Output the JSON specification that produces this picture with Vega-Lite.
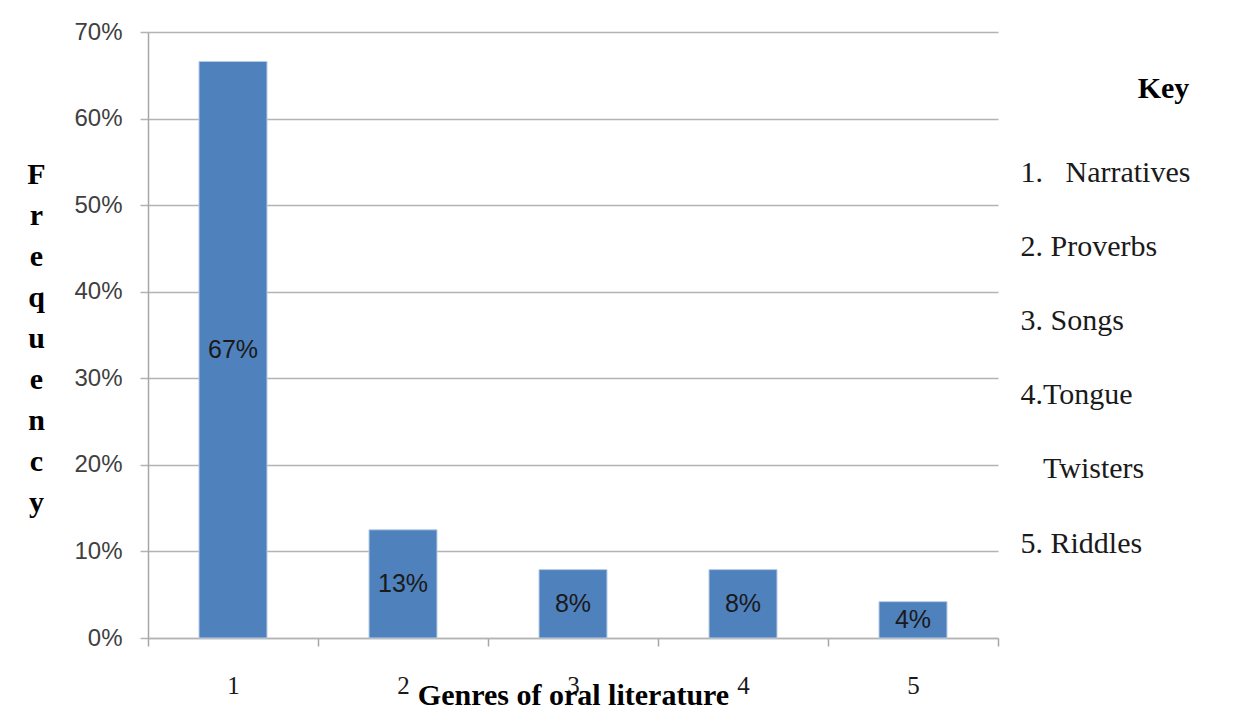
{
  "$schema": "https://vega.github.io/schema/vega-lite/v6.json",
  "width": 850,
  "height": 606,
  "autosize": {"type": "none"},
  "padding": {"left": 148, "top": 32, "right": 245, "bottom": 75},
  "background": "white",
  "config": {"view": {"stroke": null}},
  "layer": [
    {
      "data": {"values": [
        {"genre": "1", "value": 0.666, "label": "67%"},
        {"genre": "2", "value": 0.125, "label": "13%"},
        {"genre": "3", "value": 0.079, "label": "8%"},
        {"genre": "4", "value": 0.079, "label": "8%"},
        {"genre": "5", "value": 0.042, "label": "4%"}
      ]},
      "encoding": {
        "x": {
          "field": "genre", "type": "ordinal", "sort": null,
          "scale": {"type": "band", "paddingInner": 0, "paddingOuter": 0},
          "axis": {
            "tickBand": "extent", "ticks": true, "tickSize": 8, "tickColor": "#a6a6a6", "tickWidth": 1.5,
            "domainColor": "#b3b3b3", "domainWidth": 1.5,
            "labelAngle": 0, "labelFont": "Liberation Serif", "labelFontSize": 25, "labelColor": "#1a1a1a",
            "labelPadding": 27,
            "title": "Genres of oral literature",
            "titleFont": "Liberation Serif", "titleFontSize": 30, "titleFontWeight": "bold", "titleColor": "#000000",
            "titleBaseline": "alphabetic", "titleY": 66
          }
        }
      },
      "layer": [
        {
          "mark": {"type": "bar", "fill": "#4f81bd", "stroke": "#b9cde5", "strokeWidth": 1, "width": {"band": 0.4}},
          "encoding": {
            "y": {
              "field": "value", "type": "quantitative",
              "scale": {"domain": [0, 0.7], "nice": false},
              "axis": {
                "values": [0, 0.1, 0.2, 0.3, 0.4, 0.5, 0.6, 0.7],
                "format": ".0%",
                "grid": true, "gridColor": "#b3b3b3", "gridWidth": 1.5,
                "tickSize": 8, "tickColor": "#b3b3b3", "tickWidth": 1.5,
                "domainColor": "#a6a6a6", "domainWidth": 1.5,
                "labelFont": "Liberation Sans", "labelFontSize": 24, "labelColor": "#404040",
                "labelPadding": 18,
                "title": ["F", "r", "e", "q", "u", "e", "n", "c", "y"],
                "titleFont": "Liberation Serif", "titleFontSize": 30, "titleFontWeight": "bold", "titleColor": "#000000",
                "titleAngle": 0, "titleLineHeight": 41, "titleAlign": "center", "titleBaseline": "top",
                "titleX": -112, "titleY": 127
              }
            }
          }
        },
        {
          "transform": [{"calculate": "datum.value / 2", "as": "mid"}],
          "mark": {"type": "text", "font": "Liberation Sans", "fontSize": 25, "color": "#1a1a1a", "baseline": "middle", "align": "center"},
          "encoding": {
            "y": {"field": "mid", "type": "quantitative"},
            "text": {"field": "label"}
          }
        }
      ]
    },
    {
      "data": {"values": [
        {"item": "1.\u00a0\u00a0\u00a0Narratives"},
        {"item": "2. Proverbs"},
        {"item": "3. Songs"},
        {"item": "4.Tongue"},
        {"item": "\u200b\u00a0\u00a0\u00a0Twisters"},
        {"item": "5. Riddles"}
      ]},
      "mark": {"type": "text", "opacity": 0},
      "encoding": {
        "y": {
          "field": "item", "type": "ordinal", "sort": null,
          "scale": {"type": "point", "range": [140, 511], "padding": 0},
          "axis": {
            "orient": "right", "ticks": false, "tickSize": 0, "domain": false, "grid": false,
            "labelAlign": "left", "labelBaseline": "middle", "labelPadding": 22, "labelLimit": 400, "labelOverlap": false,
            "labelFont": "Liberation Serif", "labelFontSize": 30, "labelColor": "#1a1a1a",
            "title": "Key", "titleFont": "Liberation Serif", "titleFontSize": 30, "titleFontWeight": "bold", "titleColor": "#000000",
            "titleAngle": 0, "titleAlign": "center", "titleBaseline": "middle", "titleX": 165, "titleY": 56
          }
        },
        "text": {"field": "item"}
      }
    }
  ],
  "resolve": {"scale": {"y": "independent"}, "axis": {"y": "independent"}}
}
